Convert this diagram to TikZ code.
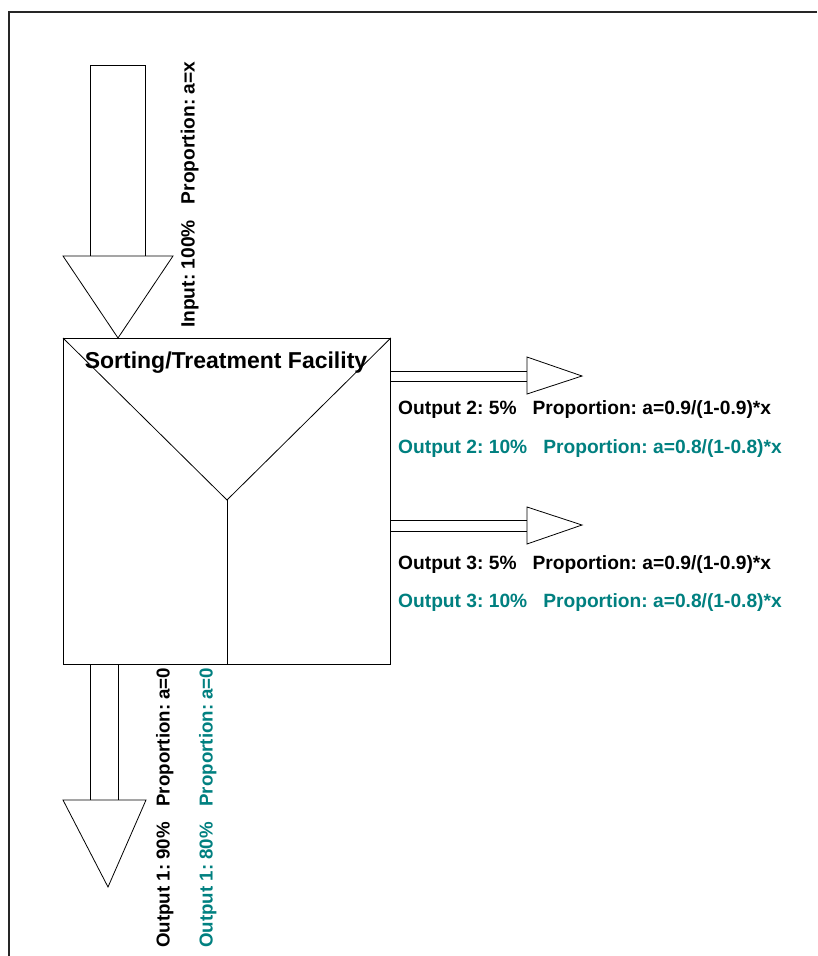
\documentclass[tikz,border=0pt]{standalone}
\usepackage{fontspec}
\setmainfont{Liberation Sans}
\frenchspacing
\definecolor{tealtxt}{RGB}{0,128,128}
\begin{document}
\begin{tikzpicture}[x=1pt,y=-1pt,
  shape line/.style={draw=black,line width=0.8pt,fill=white,line join=miter},
  lbl/.style={inner sep=0pt,font=\bfseries\fontsize{19.2}{22}\selectfont},
  vlbl/.style={inner sep=0pt,font=\bfseries\fontsize{18.7}{22}\selectfont},
  blk/.style={lbl,text=black},
  tl/.style={lbl,text=tealtxt}]
\useasboundingbox (0,0) rectangle (817,956);
\fill[white] (0,0) rectangle (817,956);
% frame (top and left)
\draw[line width=1.2pt,black!85] (817,12) -- (9,12) -- (9,956);
% input arrow
\draw[shape line] (90,65) rectangle (145,256);
\draw[shape line] (63,256) -- (173,256) -- (118,338) -- cycle;
% facility box
\node[shape line,minimum width=327pt,minimum height=326pt,inner sep=0pt,anchor=north west] (fac) at (63,338) {};
\coordinate (ymid) at (227,500);
\draw[line width=0.8pt] (fac.north west) -- (ymid) -- (fac.north east);
\draw[line width=0.8pt] (ymid) -- (ymid |- fac.south);
\node[inner sep=0pt,anchor=base,font=\bfseries\fontsize{23}{27}\selectfont] (title) at (226,368) {Sorting/Treatment Facility};
% output 2 arrow
\draw[shape line] (390,371) rectangle (527,381);
\draw[shape line] (527,357) -- (582,376) -- (527,394) -- cycle;
% output 3 arrow
\draw[shape line] (390,520) rectangle (527,531);
\draw[shape line] (527,507) -- (582,525) -- (527,544) -- cycle;
% output 1 arrow
\draw[shape line] (90,664) rectangle (118,800);
\draw[shape line] (63,800) -- (146,800) -- (108,887) -- cycle;
% labels
\node[blk,rotate=90,anchor=base west] (inlbl) at (194.5,328) {Input: 100\%\ \ \ Proportion: a=x};
\node[blk,anchor=base west] (o2a) at (398,414.5) {Output 2: 5\%\ \ \ Proportion: a=0.9/(1-0.9)*x};
\node[tl,anchor=base west] (o2b) at (398,453.5) {Output 2: 10\%\ \ \ Proportion: a=0.8/(1-0.8)*x};
\node[blk,anchor=base west] (o3a) at (398,569) {Output 3: 5\%\ \ \ Proportion: a=0.9/(1-0.9)*x};
\node[tl,anchor=base west] (o3b) at (398,607.5) {Output 3: 10\%\ \ \ Proportion: a=0.8/(1-0.8)*x};
\node[blk,vlbl,rotate=90,anchor=base west] (o1a) at (169.5,948) {Output 1: 90\%\ \ \ Proportion: a=0};
\node[tl,vlbl,rotate=90,anchor=base west] (o1b) at (212.5,948) {Output 1: 80\%\ \ \ Proportion: a=0};
\end{tikzpicture}
\end{document}
